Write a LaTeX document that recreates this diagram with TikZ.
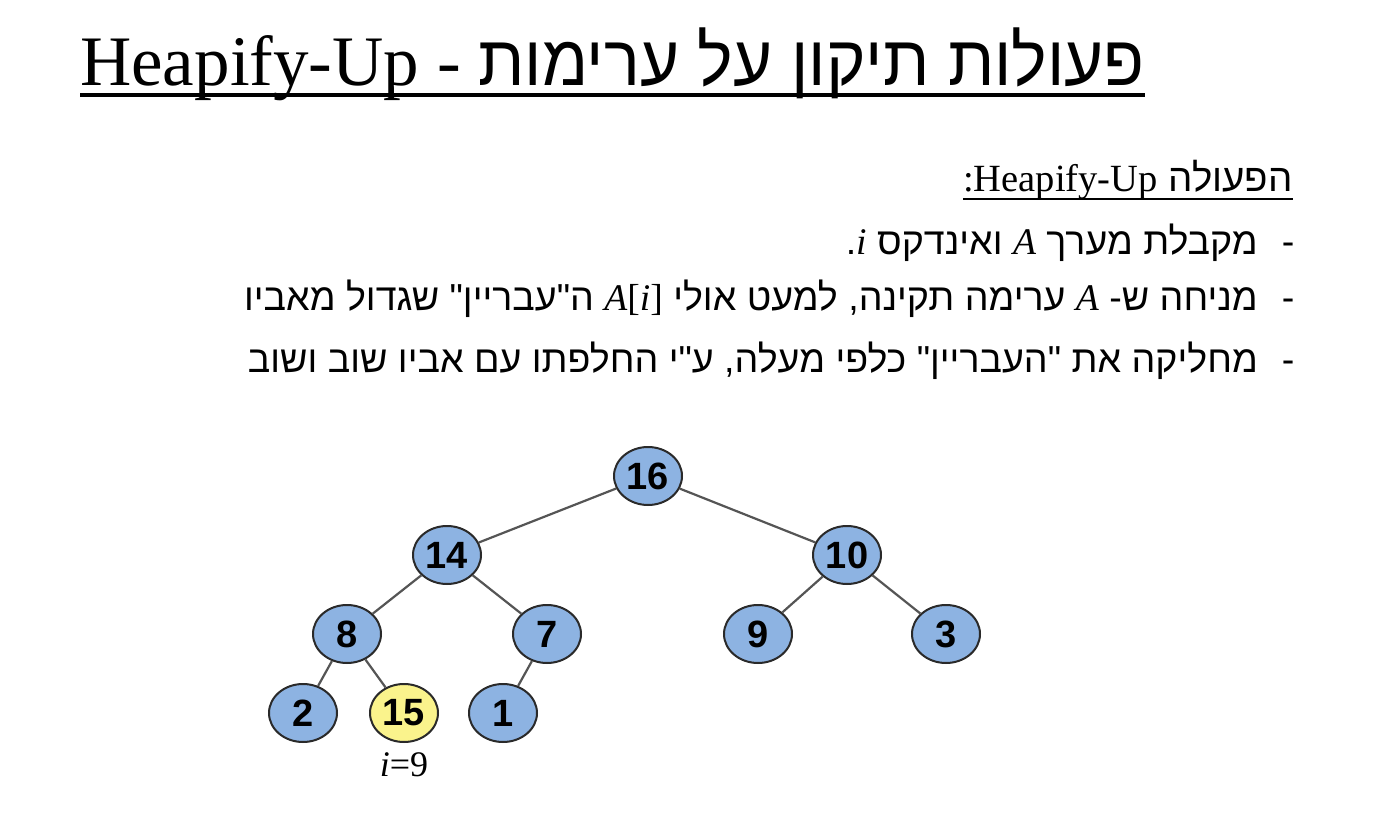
\documentclass[tikz,border=0pt]{standalone}
\usepackage{graphicx}
\usepackage{fontspec}
\setmainfont{Liberation Serif}
\newfontfamily\heb[Script=Hebrew]{Liberation Sans}
\newfontfamily\numf{Liberation Sans}
\TeXXeTstate=1
\usetikzlibrary{shapes.geometric}
\definecolor{nodeblue}{HTML}{8DB3E2}
\definecolor{nodeyellow}{HTML}{FAF38C}
\definecolor{edgegray}{HTML}{555555}
\definecolor{rimgray}{HTML}{2A2A2A}
\tikzset{
  hnode/.style={ellipse, draw=rimgray, line width=2pt, fill=nodeblue,
    minimum width=68pt, minimum height=58pt, inner sep=0pt,
    font=\numf\bfseries\fontsize{38}{40}\selectfont},
  hot/.style={hnode, fill=nodeyellow},
  edge/.style={draw=edgegray, line width=2.2pt},
  bodytext/.style={anchor=base east, inner sep=0pt, font=\heb\fontsize{37.6}{42}\selectfont},
  dashmark/.style={anchor=base, inner sep=0pt, font=\heb\fontsize{37.6}{42}\selectfont}
}
\begin{document}
\begin{tikzpicture}[x=1pt,y=-1pt]
\useasboundingbox (0,0) rectangle (1393,813);
% title
\node[anchor=base west, inner sep=0pt, font=\fontsize{71}{80}\selectfont] (title) at (80,86)
  {Heapify-Up - \scalebox{0.945}[1]{\heb\beginR פעולות תיקון על ערימות\endR}};
\draw[line width=3.8pt] ([yshift=-9pt]title.base west) -- ([yshift=-9pt]title.base east);
% subheading
\node[anchor=base east, inner sep=0pt, font=\fontsize{38.5}{42}\selectfont] (sub) at (1293,192)
  {\beginR{\heb הפעולה }\beginL Heapify-Up\endL:\endR};
\draw[line width=2.4pt] ([yshift=-7pt]sub.base west) -- ([yshift=-7pt]sub.base east);
% bullets
\node[dashmark] (d1) at (1288,255) {-};
\node[dashmark] (d2) at (1288,311) {-};
\node[dashmark] (d3) at (1288,372) {-};
\node[bodytext] (l1) at (1258,255)
  {\beginR מקבלת מערך \beginL{\rmfamily\itshape A}\endL{} ואינדקס \beginL{\rmfamily\itshape i}\endL.\endR};
\node[bodytext] (l2) at (1258,311)
  {\beginR מניחה ש- \beginL{\rmfamily\itshape A}\endL{} ערימה תקינה, למעט אולי \beginL{\rmfamily\itshape A}{\rmfamily[}{\rmfamily\itshape i}{\rmfamily]}\endL{} ה"עבריין" שגדול מאביו\endR};
\node[bodytext] (l3) at (1258,372)
  {\beginR מחליקה את "העבריין" כלפי מעלה, ע"י החלפתו עם אביו שוב ושוב\endR};
% tree
\node[hnode] (n16) at (648,476) {16};
\node[hnode] (n14) at (447,555) {14};
\node[hnode] (n10) at (847,555) {10};
\node[hnode] (n8) at (347,634) {8};
\node[hnode] (n7) at (547,634) {7};
\node[hnode] (n9) at (758,634) {9};
\node[hnode] (n3) at (946,634) {3};
\node[hnode] (n2) at (303,713) {2};
\node[hot] (n15) at (404,713) {15};
\node[hnode] (n1) at (503,713) {1};
\node[anchor=base, inner sep=0pt, font=\fontsize{36}{40}\selectfont] (lab) at (404,776) {\textit{i}=9};
\draw[edge] (n16) -- (n14);
\draw[edge] (n16) -- (n10);
\draw[edge] (n14) -- (n8);
\draw[edge] (n14) -- (n7);
\draw[edge] (n10) -- (n9);
\draw[edge] (n10) -- (n3);
\draw[edge] (n8) -- (n2);
\draw[edge] (n8) -- (n15);
\draw[edge] (n7) -- (n1);
\end{tikzpicture}
\end{document}
